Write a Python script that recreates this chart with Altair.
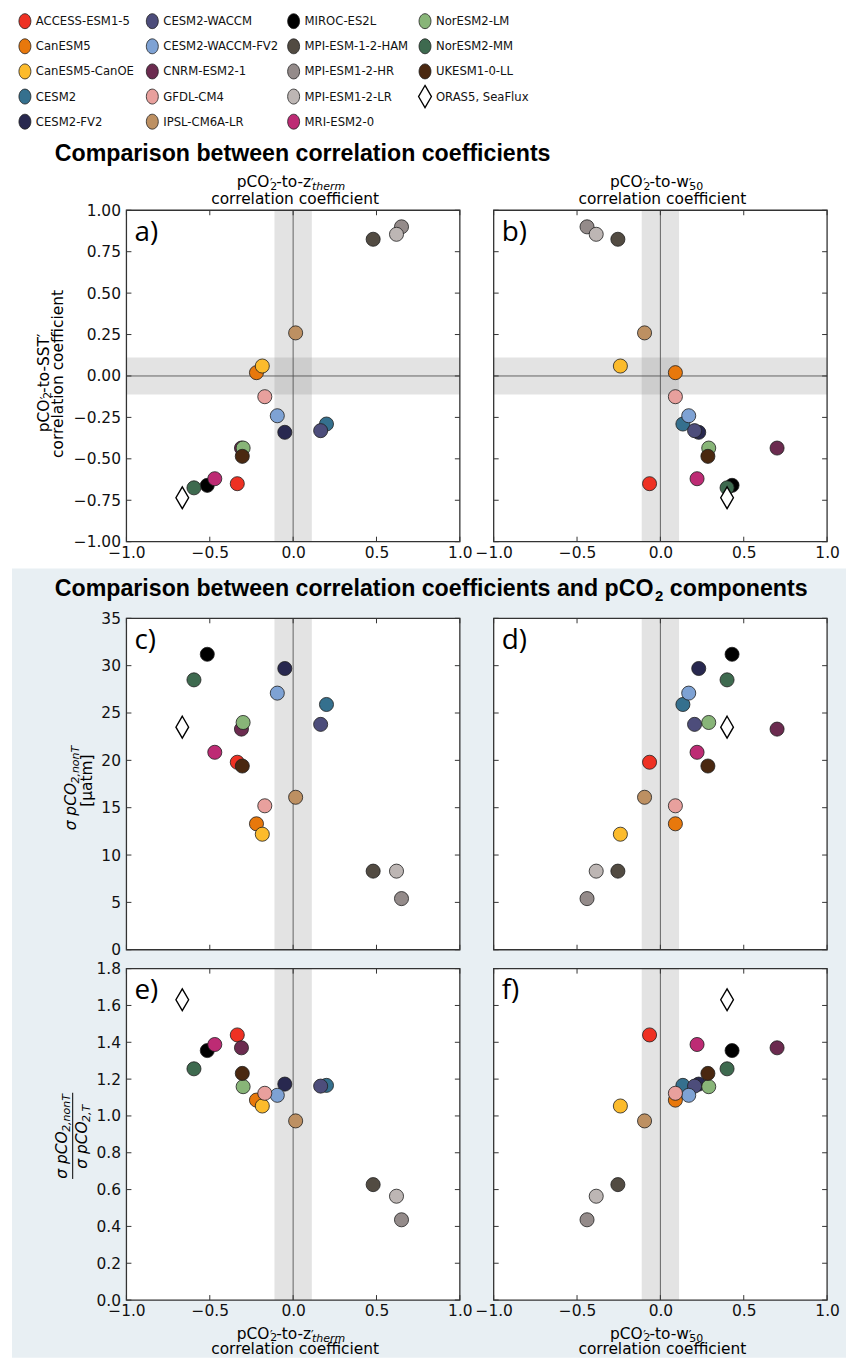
import altair as alt
import pandas as pd

# ---------------- data ----------------
models = ["ACCESS-ESM1-5", "CanESM5", "CanESM5-CanOE", "CESM2", "CESM2-FV2",
          "CESM2-WACCM", "CESM2-WACCM-FV2", "CNRM-ESM2-1", "GFDL-CM4", "IPSL-CM6A-LR",
          "MIROC-ES2L", "MPI-ESM-1-2-HAM", "MPI-ESM1-2-HR", "MPI-ESM1-2-LR", "MRI-ESM2-0",
          "NorESM2-LM", "NorESM2-MM", "UKESM1-0-LL", "ORAS5, SeaFlux"]
colors = ["#ee3123", "#e8780c", "#fcbb2c", "#35708e", "#28284f",
          "#4d4d7b", "#7ea2d4", "#6b2b4f", "#e8a09d", "#bd9062",
          "#000000", "#524b42", "#948b8a", "#bdb6b4", "#bd2b74",
          "#88b578", "#3e6a4f", "#4a2810", "#ffffff"]
# pCO2'-to-z'therm correlation
r_ztherm = [-0.335, -0.22, -0.185, 0.20, -0.05, 0.165, -0.095, -0.31, -0.17, 0.015,
            -0.515, 0.48, 0.65, 0.62, -0.47, -0.30, -0.595, -0.305, -0.665]
# pCO2'-to-w'50 correlation
r_w50 = [-0.065, 0.09, -0.24, 0.135, 0.23, 0.205, 0.17, 0.70, 0.09, -0.095,
         0.43, -0.255, -0.44, -0.385, 0.22, 0.29, 0.40, 0.285, 0.40]
# pCO2'-to-SST' correlation
r_sst = [-0.65, 0.02, 0.06, -0.29, -0.34, -0.33, -0.24, -0.435, -0.125, 0.26,
         -0.66, 0.825, 0.90, 0.855, -0.62, -0.435, -0.675, -0.485, -0.735]
# sigma pCO2,nonT [uatm]
sigma_nonT = [19.8, 13.3, 12.2, 25.9, 29.7, 23.8, 27.1, 23.3, 15.2, 16.1,
              31.2, 8.3, 5.4, 8.3, 20.85, 24.0, 28.5, 19.4, 23.5]
# sigma pCO2,nonT / sigma pCO2,T
ratio_nonT_T = [1.44, 1.086, 1.054, 1.166, 1.173, 1.162, 1.112, 1.37, 1.123, 0.973,
                1.355, 0.627, 0.436, 0.564, 1.388, 1.159, 1.256, 1.231, 1.631]

x_ticks = [-1.0, -0.5, 0.0, 0.5, 1.0]
y_ticks_r = [-1.0, -0.75, -0.5, -0.25, 0.0, 0.25, 0.5, 0.75, 1.0]
y_ticks_sigma = [0, 5, 10, 15, 20, 25, 30, 35]
y_ticks_ratio = [0.0, 0.2, 0.4, 0.6, 0.8, 1.0, 1.2, 1.4, 1.6, 1.8]
band_limits = [-0.112, 0.112]
zero_line = [0.0]

OBS = "ORAS5, SeaFlux"
df = pd.DataFrame({"model": models, "r_ztherm": r_ztherm, "r_w50": r_w50,
                   "r_sst": r_sst, "sigma_nonT": sigma_nonT, "ratio": ratio_nonT_T})
band_df = pd.DataFrame({"lo": [band_limits[0]], "hi": [band_limits[1]]})
zero_df = pd.DataFrame({"v": zero_line})
xt_df = pd.DataFrame({"v": x_ticks})

# ---------------- style ----------------
W, H = 335, 333
GAP_AB = 58          # extra space below panels a/b (x labels + second title)
LF = "DejaVu Sans"
FS = 15.5
DIAMOND = "M0,-1L0.58,0L0,1L-0.58,0Z"
ELLIPSE = "M0,-1A0.8,1,0,1,1,0,1A0.8,1,0,1,1,0,-1Z"
color_scale = alt.Scale(domain=models, range=colors)
one = alt.Data(values=[{"k": 0}])


def txt(s, x, y, size=FS, font=LF, style="normal", weight="normal", align="left",
        baseline="alphabetic", angle=0, dy=0, color="black"):
    return alt.Chart(one).mark_text(
        text=s, font=font, fontSize=size, fontStyle=style, fontWeight=weight,
        align=align, baseline=baseline, angle=angle, dy=dy, color=color
    ).encode(x=alt.value(x), y=alt.value(y))


def title_zt(y1, y2):
    return [txt("pCO", 143.6, y1, align="right"),
            txt("\u2032", 144.2, y1, size=12),
            txt("2", 144.5, y1, size=11, dy=2.5),
            txt("-to-z", 150.5, y1),
            txt("\u2032", 185.5, y1, size=12),
            txt("therm", 186.5, y1, size=11, style="italic", dy=3),
            txt("correlation coefficient", 169.5, y2, align="center")]


def title_w(y1, y2):
    return [txt("pCO", 149.6, y1, align="right"),
            txt("\u2032", 150.2, y1, size=12),
            txt("2", 150.5, y1, size=11, dy=2.5),
            txt("-to-w", 156.5, y1),
            txt("\u2032", 196, y1, size=12),
            txt("50", 196.5, y1, size=11, dy=3),
            txt("correlation coefficient", 169.5, y2, align="center")]


def panel(xf, yf, ydom, yticks, yfmt, xlabels, ylabels, hband, letter, extra,
          bg=False, extra_h=0):
    xs = alt.Scale(domain=[-1, 1], nice=False, zero=False)
    ys = alt.Scale(domain=ydom, nice=False, zero=False, range=[H, 0])
    common = dict(title=None, ticks=False, tickSize=0, domain=False, grid=False,
                  labelFont=LF, labelFontSize=FS, labelColor="#111",
                  labelFlush=False, labelOverlap=False, zindex=2)
    xax = (alt.Axis(values=x_ticks, format=".1f", labelPadding=4, offset=-extra_h, **common)
           if xlabels else None)
    yax = alt.Axis(values=yticks, format=yfmt, labelPadding=6, **common) if ylabels else None

    def X(f):
        return alt.X(f, type="quantitative", scale=xs, axis=xax)

    def Y(f):
        return alt.Y(f, type="quantitative", scale=ys, axis=yax)

    layers = []
    if bg:
        layers.append(alt.Chart(one).mark_rect(fill="#e8eff3").encode(
            x=alt.value(-115), x2=alt.value(723), y=alt.value(-50), y2=alt.value(743)))
    layers.append(alt.Chart(one).mark_rect(fill="white").encode(
        x=alt.value(0), x2=alt.value(W), y=alt.value(0), y2=alt.value(H)))
    layers.append(alt.Chart(band_df).mark_rect(color="#7f7f7f", opacity=0.22).encode(
        x=X("lo"), x2="hi", y=alt.value(0), y2=alt.value(H)))
    if hband:
        layers.append(alt.Chart(band_df).mark_rect(color="#7f7f7f", opacity=0.22).encode(
            y=Y("lo"), y2="hi", x=alt.value(0), x2=alt.value(W)))
    layers.append(alt.Chart(zero_df).mark_rule(color="#555", strokeWidth=0.9).encode(
        x=X("v"), y=alt.value(0), y2=alt.value(H)))
    if hband:
        layers.append(alt.Chart(zero_df).mark_rule(color="#555", strokeWidth=0.9).encode(
            y=Y("v"), x=alt.value(0), x2=alt.value(W)))
    yt_df = pd.DataFrame({"v": yticks})
    layers.append(alt.Chart(xt_df).mark_rule(color="#333", strokeWidth=1).encode(
        x=X("v"), y=alt.value(0), y2=alt.value(5)))
    layers.append(alt.Chart(xt_df).mark_rule(color="#333", strokeWidth=1).encode(
        x=X("v"), y=alt.value(H), y2=alt.value(H - 5)))
    layers.append(alt.Chart(yt_df).mark_rule(color="#333", strokeWidth=1).encode(
        y=Y("v"), x=alt.value(0), x2=alt.value(5)))
    layers.append(alt.Chart(yt_df).mark_rule(color="#333", strokeWidth=1).encode(
        y=Y("v"), x=alt.value(W), x2=alt.value(W - 5)))
    layers.append(alt.Chart(df).transform_filter(alt.datum.model != OBS).mark_point(
        filled=True, shape="circle", size=200, stroke="#1e1e1e", strokeWidth=0.8, opacity=1
    ).encode(x=X(xf), y=Y(yf), color=alt.Color("model:N", scale=color_scale, legend=None)))
    layers.append(alt.Chart(df).transform_filter(alt.datum.model == OBS).mark_point(
        shape=DIAMOND, size=484, filled=True, fill="white", stroke="black",
        strokeWidth=1.4, opacity=1
    ).encode(x=X(xf), y=Y(yf)))
    layers.append(alt.Chart(one).mark_rect(fillOpacity=0, stroke="#333", strokeWidth=1.3).encode(
        x=alt.value(0), x2=alt.value(W), y=alt.value(0), y2=alt.value(H)))
    layers.append(txt(letter, 8, 31, size=28, font="Open Sans"))
    layers.extend(extra)
    return alt.layer(*layers).properties(width=W, height=H + extra_h)


# ---------------- panels ----------------
extra_a = ([txt("Comparison between correlation coefficients", -72, -50,
                font="Liberation Sans", weight="bold", size=23.3)]
           + title_zt(-23, -6.5)
           + [txt("pCO", -78, 223, angle=270),
              txt("\u2032", -78, 190, size=12, angle=270),
              txt("2", -78, 189.5, size=11, angle=270, dy=2.5),
              txt("-to-SST\u2032", -78, 183.5, angle=270),
              txt("correlation coefficient", -63.5, 164.5, align="center", angle=270)])
extra_b = title_w(-23, -6.5)
extra_c = [txt("Comparison between correlation coefficients and pCO", -72, -22,
               font="Liberation Sans", weight="bold", size=23.3),
           txt("2", 531, -22, font="Liberation Sans", weight="bold", size=15, dy=5),
           txt("components", 546, -22, font="Liberation Sans", weight="bold", size=23.3),
           txt("\u03c3 pCO", -51, 213, style="italic", angle=270),
           txt("2,nonT", -51, 166, size=11, style="italic", angle=270, dy=3),
           txt("[\u00b5atm]", -35, 163, align="center", angle=270)]
extra_e = ([txt("\u03c3 pCO", -60, 211, style="italic", angle=270),
            txt("2,nonT", -60, 164, size=11, style="italic", angle=270, dy=3),
            alt.Chart(one).mark_rule(color="black", strokeWidth=1).encode(
                x=alt.value(-54), y=alt.value(124.7), y2=alt.value(211.3)),
            txt("\u03c3 pCO", -40, 201, style="italic", angle=270),
            txt("2,T", -40, 154, size=11, style="italic", angle=270, dy=3)]
           + title_zt(H + 39, H + 54))
extra_f = title_w(H + 39, H + 54)

pa = panel("r_ztherm", "r_sst", [-1, 1], y_ticks_r, ".2f", True, True, True, "a)", extra_a,
           extra_h=GAP_AB)
pb = panel("r_w50", "r_sst", [-1, 1], y_ticks_r, ".2f", True, False, True, "b)", extra_b,
           extra_h=GAP_AB)
pc = panel("r_ztherm", "sigma_nonT", [0, 35], y_ticks_sigma, "d", False, True, False, "c)",
           extra_c, bg=True)
pd_ = panel("r_w50", "sigma_nonT", [0, 35], y_ticks_sigma, "d", False, False, False, "d)", [])
pe = panel("r_ztherm", "ratio", [0, 1.8], y_ticks_ratio, ".1f", True, True, False, "e)", extra_e)
pf = panel("r_w50", "ratio", [0, 1.8], y_ticks_ratio, ".1f", True, False, False, "f)", extra_f)

# ---------------- legend ----------------
LEG_H = 178
leg_df = pd.DataFrame({"model": models,
                       "col": [i // 5 for i in range(len(models))],
                       "row": [i % 5 for i in range(len(models))]})
lx = alt.Scale(domain=[0, 1, 2, 3], range=[-102, 26, 168, 300])
ly = alt.Scale(domain=[0, 4], range=[7, 108])
LX = alt.X("col:Q", scale=lx, axis=None)
LY = alt.Y("row:Q", scale=ly, axis=None)
legend = alt.layer(
    alt.Chart(leg_df).transform_filter(alt.datum.model != OBS).mark_point(
        shape=ELLIPSE, size=225, filled=True, stroke="#1e1e1e", strokeWidth=0.8, opacity=1
    ).encode(x=LX, y=LY, color=alt.Color("model:N", scale=color_scale, legend=None)),
    alt.Chart(leg_df).transform_filter(alt.datum.model == OBS).mark_point(
        shape=DIAMOND, size=500, filled=True, fill="white", stroke="black", strokeWidth=1.3, opacity=1
    ).encode(x=LX, y=LY),
    alt.Chart(leg_df).mark_text(align="left", baseline="middle", dx=11,
                                font="Liberation Sans Narrow, DejaVu Sans Condensed, Liberation Sans",
                                fontSize=13, color="#111").encode(x=LX, y=LY, text="model:N"),
).properties(width=W, height=LEG_H)
blank = alt.Chart(one).mark_point(opacity=0).encode(
    x=alt.value(W / 2), y=alt.value(LEG_H / 2)).properties(width=W, height=LEG_H)

chart = alt.concat(legend, blank, pa, pb, pc, pd_, pe, pf, columns=2,
                   spacing=alt.RowColnumber(row=19, column=34), bounds="flush").properties(
    padding={"left": 4, "top": 0, "right": 0, "bottom": 0}, background="white"
).configure_view(stroke=None)

chart.save("out.html", embed_options={"renderer": "svg", "actions": False})
